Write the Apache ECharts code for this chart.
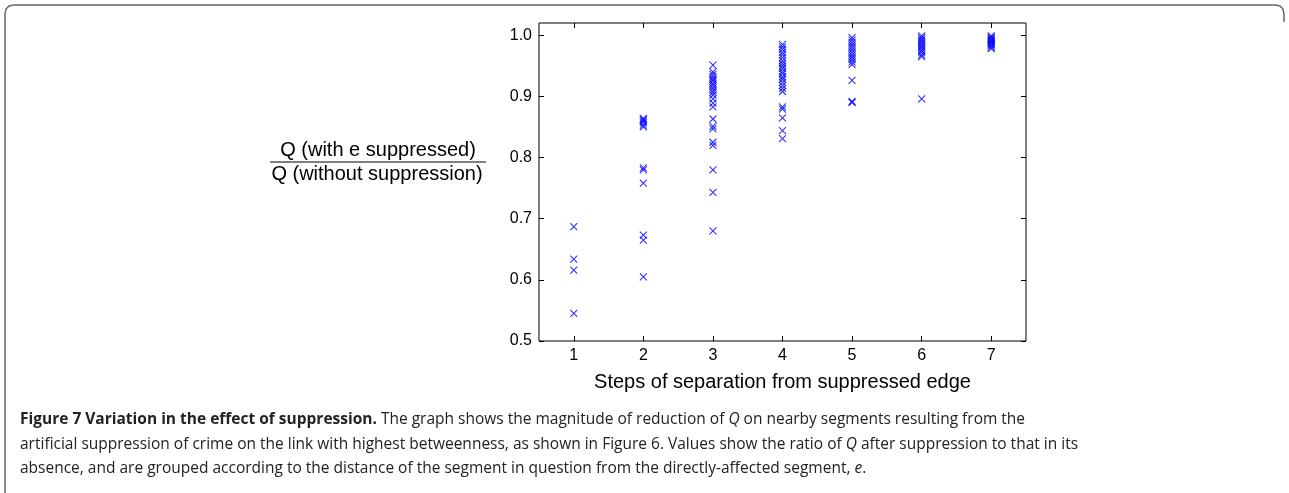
<!DOCTYPE html>
<html>
<head>
<meta charset="utf-8">
<script src="https://cdn.jsdelivr.net/npm/echarts@6/dist/echarts.min.js"></script>
<style>
  html, body { margin: 0; padding: 0; background: #fff; }
  #chart { width: 1289px; height: 493px; }
</style>
</head>
<body>
<div id="chart"></div>
<script>
// steps of separation (x) and Q ratio values
var steps = [1, 2, 3, 4, 5, 6, 7];
var step1 = [0.687, 0.634, 0.616, 0.545];
var step2 = [0.864, 0.862, 0.86, 0.857, 0.853, 0.85, 0.783, 0.78, 0.758, 0.673, 0.665, 0.605];
var step3 = [0.951, 0.94, 0.936, 0.932, 0.928, 0.925, 0.921, 0.918, 0.914, 0.91, 0.906, 0.902,
             0.896, 0.889, 0.883, 0.863, 0.851, 0.847, 0.825, 0.82, 0.78, 0.743, 0.68];
var step4 = [0.985, 0.981, 0.977, 0.972, 0.968, 0.963, 0.958, 0.954, 0.95, 0.946, 0.941, 0.937,
             0.932, 0.928, 0.923, 0.918, 0.913, 0.908, 0.883, 0.879, 0.865, 0.844, 0.831];
var step5 = [0.996, 0.992, 0.988, 0.984, 0.98, 0.976, 0.972, 0.968, 0.964, 0.96, 0.956, 0.952,
             0.926, 0.892, 0.89];
var step6 = [0.999, 0.996, 0.993, 0.99, 0.987, 0.984, 0.981, 0.978, 0.975, 0.972, 0.968, 0.965, 0.896];
var step7 = [0.999, 0.997, 0.995, 0.993, 0.991, 0.989, 0.987, 0.985, 0.983, 0.98, 0.978];
var yTicks = [0.5, 0.6, 0.7, 0.8, 0.9, 1.0];

var groups = [step1, step2, step3, step4, step5, step6, step7];
var points = [];
groups.forEach(function (vals, i) {
  vals.forEach(function (v) { points.push([steps[i], v]); });
});

var font = '"Liberation Sans", Arial, sans-serif';
var capFont = '"Open Sans", "Noto Sans", sans-serif';
var capSize = 15.5;

var chart = echarts.init(document.getElementById('chart'));

// x-shaped marker
var cross = 'path://M0,0L10,10M10,0L0,10';

function capStyle(text) {
  return {
    text: text,
    fontFamily: capFont, fontSize: capSize, fill: '#222',
    rich: {
      b: { fontFamily: capFont, fontSize: capSize, fontWeight: 'bold', fill: '#222' },
      i: { fontFamily: capFont, fontSize: capSize, fontStyle: 'italic', fill: '#222' }
    }
  };
}

chart.setOption({
  animation: false,
  grid: {
    left: 539, right: 263, top: 23, bottom: 152,
    show: true, borderColor: '#000', borderWidth: 1, backgroundColor: '#fff'
  },
  xAxis: [{
    type: 'value', min: 0.5, max: 7.5, position: 'bottom',
    splitLine: { show: false },
    axisLine: { show: false },
    axisTick: { show: true, inside: true, length: 5, lineStyle: { color: '#000' }, customValues: steps },
    axisLabel: { color: '#000', fontFamily: font, fontSize: 16, margin: 7, customValues: steps },
    name: 'Steps of separation from suppressed edge',
    nameLocation: 'middle', nameGap: 31,
    nameTextStyle: { color: '#000', fontFamily: font, fontSize: 20 }
  }, {
    type: 'value', min: 0.5, max: 7.5, position: 'top',
    splitLine: { show: false },
    axisLine: { show: false },
    axisTick: { show: true, inside: true, length: 5, lineStyle: { color: '#000' }, customValues: steps },
    axisLabel: { show: false }
  }],
  yAxis: [{
    type: 'value', min: 0.5, max: 1.02, position: 'left',
    splitLine: { show: false },
    axisLine: { show: false },
    axisTick: { show: true, inside: true, length: 5, lineStyle: { color: '#000' }, customValues: yTicks },
    axisLabel: {
      color: '#000', fontFamily: font, fontSize: 16, margin: 7, customValues: yTicks,
      formatter: function (v) { return v.toFixed(1); }
    }
  }, {
    type: 'value', min: 0.5, max: 1.02, position: 'right',
    splitLine: { show: false },
    axisLine: { show: false },
    axisTick: { show: true, inside: true, length: 5, lineStyle: { color: '#000' }, customValues: yTicks },
    axisLabel: { show: false }
  }],
  series: [{
    type: 'scatter',
    data: points,
    symbol: cross,
    symbolSize: 7,
    itemStyle: { color: 'rgba(0,0,0,0)', borderColor: '#0000ff', borderWidth: 1.1 }
  }],
  graphic: [
    // figure frame
    { type: 'polyline', shape: { points: [[5, 493], [5, 14], [6, 9], [9, 6], [14, 5], [1275, 5], [1280, 6], [1283, 9], [1284, 14], [1284, 22]] },
      style: { stroke: '#666', lineWidth: 1.5, fill: null } },
    // fraction y label
    { type: 'text', x: 378, y: 150,
      style: { text: 'Q (with e suppressed)', fontFamily: font, fontSize: 20, fill: '#000', align: 'center', verticalAlign: 'middle' } },
    { type: 'line', shape: { x1: 270, y1: 162, x2: 486, y2: 162 }, style: { stroke: '#000', lineWidth: 1 } },
    { type: 'text', x: 377, y: 174,
      style: { text: 'Q (without suppression)', fontFamily: font, fontSize: 20, fill: '#000', align: 'center', verticalAlign: 'middle' } },
    // caption
    { type: 'text', left: 20, top: 412,
      style: capStyle('{b|Figure 7 Variation in the effect of suppression.} The graph shows the magnitude of reduction of {i|Q} on nearby segments resulting from the') },
    { type: 'text', left: 20, top: 437,
      style: capStyle('artificial suppression of crime on the link with highest betweenness, as shown in Figure 6. Values show the ratio of {i|Q} after suppression to that in its') },
    { type: 'text', left: 20, top: 461,
      style: capStyle('absence, and are grouped according to the distance of the segment in question from the directly-affected segment, {i|e}.') }
  ]
});
</script>
</body>
</html>
